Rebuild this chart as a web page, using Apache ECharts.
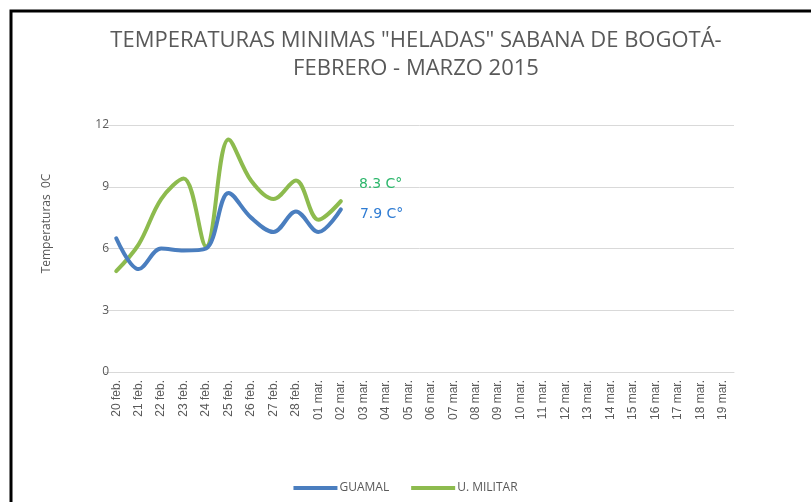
<!DOCTYPE html>
<html>
<head>
<meta charset="utf-8">
<script src="https://cdn.jsdelivr.net/npm/echarts@6/dist/echarts.min.js"></script>
<style>
  html, body { margin: 0; padding: 0; background: #ffffff; }
  #chart { width: 811px; height: 502px; }
</style>
</head>
<body>
<div id="chart"></div>
<script>
const titleText = 'TEMPERATURAS MINIMAS "HELADAS" SABANA DE BOGOTÁ-\nFEBRERO - MARZO 2015';
const yAxisName = 'Temperaturas  0C';
const categories = ['20 feb.', '21 feb.', '22 feb.', '23 feb.', '24 feb.', '25 feb.', '26 feb.', '27 feb.', '28 feb.',
  '01 mar.', '02 mar.', '03 mar.', '04 mar.', '05 mar.', '06 mar.', '07 mar.', '08 mar.', '09 mar.', '10 mar.',
  '11 mar.', '12 mar.', '13 mar.', '14 mar.', '15 mar.', '16 mar.', '17 mar.', '18 mar.', '19 mar.'];
const guamal = [6.5, 5.0, 6.0, 5.9, 6.0, 8.7, 7.5, 6.8, 7.8, 6.8, 7.9];
const militar = [4.9, 6.2, 8.4, 9.4, 6.1, 11.3, 9.3, 8.4, 9.3, 7.4, 8.3];
const seriesNames = ['GUAMAL', 'U. MILITAR'];
const yTicks = { min: 0, max: 12, interval: 3 };

const gray = '#595959';
const blue = '#4A7EBF';
const green = '#8DBB4E';

function endLabel(color, offset) {
  return {
    show: true,
    distance: 18,
    offset: offset,
    formatter: (p) => Number(p.value).toFixed(1) + ' C°',
    color: color,
    fontFamily: 'DejaVu Sans',
    fontSize: 14
  };
}

const chart = echarts.init(document.getElementById('chart'), null, { renderer: 'canvas' });
chart.setOption({
  backgroundColor: '#ffffff',
  animation: false,
  title: {
    text: titleText,
    left: 411,
    top: 22,
    textAlign: 'center',
    textStyle: {
      color: gray,
      fontFamily: "'Open Sans', sans-serif",
      fontWeight: 'normal',
      fontSize: 22,
      lineHeight: 28
    }
  },
  graphic: [{
    type: 'rect',
    shape: { x: 11, y: 11, width: 900, height: 600 },
    style: { fill: 'none', stroke: '#000000', lineWidth: 3 },
    silent: true
  }],
  legend: {
    data: seriesNames,
    bottom: 3,
    left: 'center',
    icon: 'rect',
    itemWidth: 44,
    itemHeight: 4,
    itemGap: 22,
    textStyle: { color: gray, fontSize: 12, fontFamily: "'Open Sans', sans-serif", padding: [0, 0, 0, -3] }
  },
  grid: { left: 105, right: 77, top: 125, bottom: 130 },
  xAxis: {
    type: 'category',
    data: categories,
    boundaryGap: true,
    axisLine: { show: true, lineStyle: { color: '#D9D9D9', width: 1 } },
    axisTick: { show: false },
    axisLabel: {
      rotate: 90,
      interval: 0,
      margin: 8,
      color: gray,
      fontSize: 12,
      fontFamily: "'Liberation Sans', sans-serif"
    }
  },
  yAxis: {
    type: 'value',
    min: yTicks.min,
    max: yTicks.max,
    interval: yTicks.interval,
    name: yAxisName,
    nameLocation: 'middle',
    nameGap: 52,
    nameTextStyle: { color: gray, fontSize: 12, fontFamily: "'Open Sans', sans-serif", padding: [0, 0, 0, 50] },
    axisLine: { show: false },
    axisTick: { show: false },
    axisLabel: { color: gray, fontSize: 12, margin: -4, fontFamily: "'Open Sans', sans-serif" },
    splitLine: { lineStyle: { color: '#D9D9D9', width: 1 } }
  },
  series: [
    {
      name: seriesNames[0],
      type: 'line',
      data: guamal,
      smooth: 0.35,
      showSymbol: false,
      lineStyle: { color: blue, width: 4, cap: 'round', join: 'round' },
      itemStyle: { color: blue },
      endLabel: endLabel('#2F7CD3', [1, 5]),
      z: 3
    },
    {
      name: seriesNames[1],
      type: 'line',
      data: militar,
      smooth: 0.35,
      showSymbol: false,
      lineStyle: { color: green, width: 4, cap: 'round', join: 'round' },
      itemStyle: { color: green },
      endLabel: endLabel('#2DB76C', [0, -17]),
      z: 2
    }
  ]
});
</script>
</body>
</html>
